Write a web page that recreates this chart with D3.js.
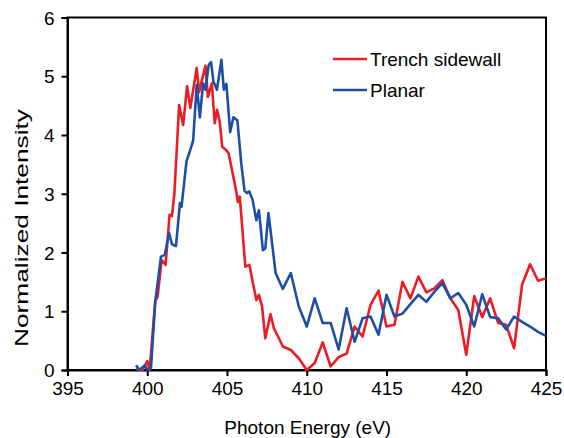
<!DOCTYPE html>
<html>
<head>
<meta charset="utf-8">
<script src="https://cdn.jsdelivr.net/npm/d3@7"></script>
<style>
  body { margin: 0; background: #fff; }
  text { font-family: "Liberation Sans", Arial, sans-serif; fill: #000; }
</style>
</head>
<body>
<script>
// Trench sidewall spectrum
let trenchEnergy = [399.3, 399.7, 400.0, 400.15, 400.5, 400.65, 400.9, 401.15, 401.4, 401.55,
  401.7, 402.0, 402.25, 402.5, 402.7, 403.1, 403.25, 403.65, 403.8, 404.05,
  404.23, 404.38, 404.54, 404.7, 404.96, 405.1, 405.4, 405.6, 405.68, 405.8,
  406.15, 406.4, 406.5, 406.84, 407.0, 407.2, 407.4, 407.73, 407.94, 408.2,
  408.5, 409.0, 409.5, 410.0, 410.5, 411.0, 411.5, 412.0, 412.5, 413.0,
  413.5, 414.0, 414.5, 415.0, 415.5, 416.0, 416.5, 417.0, 417.5, 418.0,
  418.5, 419.0, 419.5, 420.0, 420.5, 421.0, 421.5, 422.0, 422.5, 423.0,
  423.5, 424.0, 424.5, 425.0];
let trenchIntensity = [0.02, 0.0, 0.15, 0.0, 1.17, 1.25, 1.87, 1.79, 2.64, 2.62,
  3.0, 4.51, 4.17, 4.83, 4.46, 5.14, 4.73, 5.18, 4.65, 4.88,
  4.2, 4.43, 4.23, 3.8, 3.74, 3.69, 3.29, 3.01, 2.86, 2.95,
  1.76, 1.79, 1.65, 1.19, 1.28, 1.08, 0.54, 0.95, 0.71, 0.57,
  0.4, 0.34, 0.2, 0.0, 0.12, 0.47, 0.06, 0.22, 0.28, 0.74,
  0.57, 1.11, 1.35, 0.74, 0.77, 1.5, 1.22, 1.59, 1.32, 1.39,
  1.53, 1.22, 1.02, 0.26, 1.26, 0.9, 1.22, 0.8, 0.77, 0.37,
  1.45, 1.8, 1.52, 1.56];

// Planar spectrum
let planarEnergy = [399.3, 399.5, 399.85, 400.0, 400.23, 400.5, 400.86, 401.1, 401.37, 401.55,
  401.8, 402.05, 402.15, 402.46, 402.67, 402.88, 403.1, 403.3, 403.5, 403.65,
  403.85, 404.0, 404.15, 404.37, 404.65, 404.8, 404.96, 405.2, 405.4, 405.65,
  405.9, 406.1, 406.25, 406.4, 406.6, 406.84, 407.0, 407.25, 407.4, 407.6,
  408.05, 408.5, 409.0, 409.5, 410.0, 410.5, 411.0, 411.5, 412.0, 412.5,
  413.0, 413.5, 414.0, 414.5, 415.0, 415.5, 416.0, 416.5, 417.0, 417.5,
  418.0, 418.5, 419.0, 419.5, 420.0, 420.5, 421.0, 421.5, 422.0, 422.5,
  423.0, 423.5, 424.0, 424.5, 425.0];
let planarIntensity = [0.08, 0.0, 0.08, 0.0, 0.02, 1.16, 1.93, 1.96, 2.33, 2.14,
  2.11, 2.84, 2.78, 3.55, 3.72, 3.91, 4.85, 4.3, 4.88, 4.77,
  5.19, 5.24, 4.91, 4.77, 5.28, 4.77, 4.87, 4.05, 4.3, 4.25,
  3.5, 3.05, 3.01, 3.04, 2.9, 2.55, 2.72, 2.04, 2.07, 2.67,
  1.65, 1.38, 1.65, 1.08, 0.74, 1.22, 0.8, 0.8, 0.35, 1.05,
  0.48, 0.88, 0.91, 0.6, 1.28, 0.91, 0.96, 1.12, 1.28, 1.16,
  1.33, 1.48, 1.22, 1.31, 1.11, 0.74, 1.29, 0.9, 0.88, 0.69,
  0.91, 0.82, 0.74, 0.65, 0.58];

let seriesNames = ["Trench sidewall", "Planar"];
let seriesColors = ["#ec1c24", "#1f4fa5"];
let xTicks = [395, 400, 405, 410, 415, 420, 425];
let yTicks = [0, 1, 2, 3, 4, 5, 6];

let width = 564, height = 438;
let plotLeft = 67.5, plotRight = 546, plotTop = 17.5, plotBottom = 370;

let svg = d3.select("body").append("svg")
  .attr("width", width)
  .attr("height", height);

let x = d3.scaleLinear().domain([395, 425]).range([plotLeft, plotRight]);
let y = d3.scaleLinear().domain([0, 6]).range([plotBottom, plotTop]);

// frame
svg.append("rect")
  .attr("x", plotLeft).attr("y", plotTop)
  .attr("width", plotRight - plotLeft).attr("height", plotBottom - plotTop)
  .attr("fill", "none").attr("stroke", "#000").attr("stroke-width", 2);

// axes
let xAxis = svg.append("g")
  .attr("transform", "translate(0," + plotBottom + ")")
  .call(d3.axisBottom(x).tickValues(xTicks).tickSize(6).tickPadding(6).tickFormat(d3.format("d")));
let yAxis = svg.append("g")
  .attr("transform", "translate(" + plotLeft + ",0)")
  .call(d3.axisLeft(y).tickValues(yTicks).tickSize(6).tickPadding(7).tickFormat(d3.format("d")));

[xAxis, yAxis].forEach(function(g) {
  g.select(".domain").attr("stroke-width", 2);
  g.selectAll(".tick line").attr("stroke-width", 2);
  g.selectAll(".tick text")
    .style("font-family", "'Liberation Sans', Arial, sans-serif")
    .style("font-size", "19px")
    .attr("fill", "#000");
});
yAxis.selectAll(".tick text").attr("dy", "0.35em");

// axis titles
svg.append("text")
  .attr("x", (plotLeft + plotRight) / 2 + 1)
  .attr("y", 434)
  .attr("text-anchor", "middle")
  .style("font-size", "19px")
  .text("Photon Energy (eV)");

svg.append("text")
  .attr("transform", "translate(28,228) rotate(-90)")
  .attr("text-anchor", "middle")
  .attr("textLength", 238)
  .attr("lengthAdjust", "spacingAndGlyphs")
  .style("font-size", "19px")
  .text("Normalized Intensity");

// curves
let line = d3.line()
  .x(function(d) { return x(d[0]); })
  .y(function(d) { return y(d[1]); });

let series = [
  d3.zip(trenchEnergy, trenchIntensity),
  d3.zip(planarEnergy, planarIntensity)
];

svg.selectAll(".curve")
  .data(series)
  .enter()
  .append("path")
  .attr("class", "curve")
  .attr("d", line)
  .attr("fill", "none")
  .attr("stroke", function(d, i) { return seriesColors[i]; })
  .attr("stroke-width", 2.6)
  .attr("stroke-linejoin", "round");

// legend
let legend = svg.selectAll(".legend")
  .data(seriesNames)
  .enter()
  .append("g")
  .attr("class", "legend")
  .attr("transform", function(d, i) { return "translate(333," + (59 + i * 31) + ")"; });

legend.append("line")
  .attr("x1", 0).attr("x2", 34)
  .attr("stroke", function(d, i) { return seriesColors[i]; })
  .attr("stroke-width", 2.6);

legend.append("text")
  .attr("x", 37)
  .attr("y", 7)
  .style("font-size", "19px")
  .text(function(d) { return d; });
</script>
</body>
</html>
